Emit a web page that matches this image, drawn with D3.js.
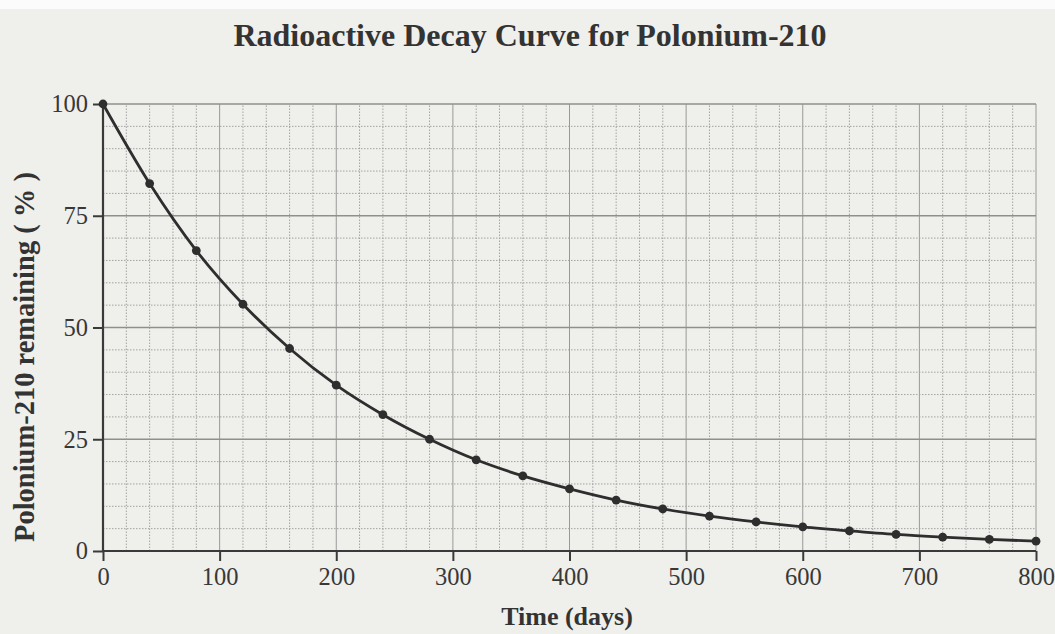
<!DOCTYPE html>
<html><head><meta charset="utf-8">
<script src="https://cdn.jsdelivr.net/npm/d3@7"></script>
<style>
html,body{margin:0;padding:0;background:#efefec;}
svg{display:block;}
text{font-family:"Liberation Serif","Times New Roman",serif;}
</style></head>
<body>
<svg id="chart" width="1055" height="634"></svg>
<script>
const days = [0,40,80,120,160,200,240,280,320,360,400,440,480,520,560,600,640,680,720,760,800];
const remaining = [100,82.2,67.2,55.2,45.3,37.1,30.5,25,20.4,16.8,13.9,11.4,9.4,7.8,6.5,5.4,4.5,3.7,3.1,2.6,2.2];
const xTicks = [0,100,200,300,400,500,600,700,800];
const yTicks = [0,25,50,75,100];
const title = "Radioactive Decay Curve for Polonium-210";
const xLabel = "Time (days)";
const yLabel = "Polonium-210 remaining ( % )";

const svg = d3.select("#chart");
const W = 1055, H = 634;
const m = {left:103, right:1036, top:104, bottom:551};
const x = d3.scaleLinear().domain([0,800]).range([m.left, m.right]);
const y = d3.scaleLinear().domain([0,100]).range([m.bottom, m.top]);

svg.append("rect").attr("width",W).attr("height",H).attr("fill","#efefec");
svg.append("rect").attr("width",W).attr("height",9).attr("fill","#fbfbfb");

// grid
const g = svg.append("g");
const vMinor = d3.range(20, 801, 20);
g.selectAll(".vg").data(vMinor).join("line")
  .attr("x1",d=>x(d)).attr("x2",d=>x(d)).attr("y1",y(0)).attr("y2",y(100))
  .attr("stroke", d=> d%100===0 ? "#999997" : "#a2a2a0")
  .attr("stroke-width", 1)
  .attr("stroke-dasharray", d=> d%100===0 ? null : "1.5,1.5");
const hMinor = d3.range(5, 101, 5);
g.selectAll(".hg").data(hMinor).join("line")
  .attr("x1",x(0)).attr("x2",x(800)).attr("y1",d=>y(d)).attr("y2",d=>y(d))
  .attr("stroke", d=> d%25===0 ? "#8f8f8d" : "#a2a2a0")
  .attr("stroke-width", d=> d%25===0 ? 1.3 : 1)
  .attr("stroke-dasharray", d=> d%25===0 ? null : "1.5,1.5");

// axes
const ax = svg.append("g").attr("transform",`translate(0,${y(0)})`)
  .call(d3.axisBottom(x).tickValues(xTicks).tickSize(10).tickPadding(7).tickFormat(d3.format("d")));
const ay = svg.append("g").attr("transform",`translate(${x(0)},0)`)
  .call(d3.axisLeft(y).tickValues(yTicks).tickSize(10).tickPadding(5).tickFormat(d3.format("d")));
[ax,ay].forEach(a=>{
  a.attr("font-size",null).attr("font-family",null);
  a.select(".domain").attr("stroke","#3a3a3a").attr("stroke-width",2.2);
  a.selectAll(".tick line").attr("stroke","#3a3a3a").attr("stroke-width",2);
  a.selectAll(".tick text").attr("fill","#383838").style("font-size","24.5px")
    .style("font-family","'Liberation Serif','Times New Roman',serif");
});
ay.select(".domain").attr("d",`M0,${y(0)}V${y(100)}`);
ax.select(".domain").attr("d",`M${x(0)},0H${x(800)}`);

// curve
const line = d3.line().x((d,i)=>x(days[i])).y(d=>y(d)).curve(d3.curveMonotoneX);
svg.append("path").datum(remaining).attr("d",line)
  .attr("fill","none").attr("stroke","#2e2e2e").attr("stroke-width",2.8);
svg.selectAll(".pt").data(remaining).join("circle")
  .attr("cx",(d,i)=>x(days[i])).attr("cy",d=>y(d)).attr("r",4.4).attr("fill","#2e2e2e");

// text
svg.append("text").attr("x",530).attr("y",46).attr("text-anchor","middle")
  .style("font-size","32px").attr("font-weight","bold").attr("fill","#333").text(title);
svg.append("text").attr("x",567).attr("y",625).attr("text-anchor","middle")
  .style("font-size","26px").attr("font-weight","bold").attr("fill","#333").text(xLabel);
svg.append("text").attr("transform","translate(34,357) rotate(-90)").attr("text-anchor","middle")
  .style("font-size","28.5px").attr("font-weight","bold").attr("fill","#333").text(yLabel);
</script>
</body></html>
